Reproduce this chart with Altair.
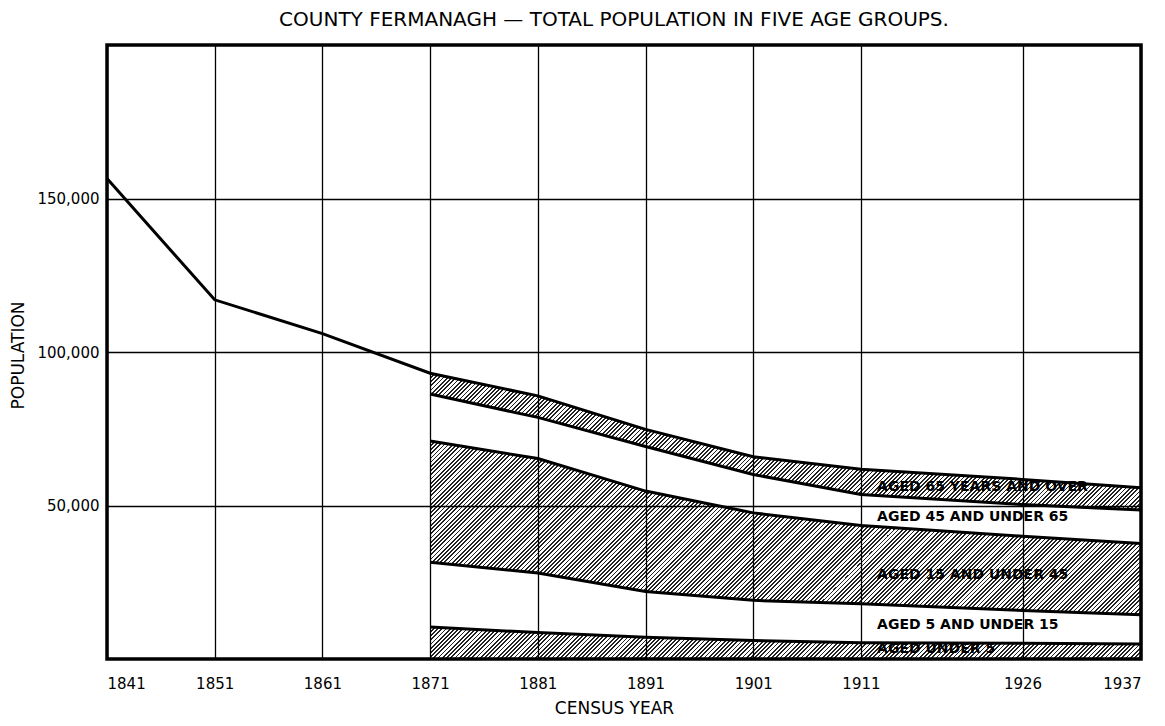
import altair as alt
import pandas as pd

# ---- data ----
years = [1841, 1851, 1861, 1871, 1881, 1891, 1901, 1911, 1926, 1937]
total = [156500, 117000, 106000, 93100, 85700, 74800, 65900, 61800, 58500, 55800]

band_years = [1871, 1881, 1891, 1901, 1911, 1926, 1937]
under5 = [10400, 8600, 7100, 6000, 5300, 5100, 4900]
age5_15 = [21100, 19400, 14900, 13100, 12700, 10700, 9500]
age15_45 = [39500, 37300, 32700, 28500, 25500, 24200, 23200]
age45_65 = [15300, 13400, 14500, 12500, 10100, 10300, 10900]
age65 = [6800, 7000, 5600, 5800, 8200, 8200, 7300]

band_names = ["AGED UNDER 5", "AGED 5 AND UNDER 15", "AGED 15 AND UNDER 45",
              "AGED 45 AND UNDER 65", "AGED 65 YEARS AND OVER"]
band_hatched = [True, False, True, False, True]

label_year = [1912.5, 1912.5, 1912.5, 1912.5, 1912.5]
label_value = [3300, 11100, 27500, 46100, 55900]

FONT = "DejaVu Sans"
W, H = 1034, 614
X0, X1 = 1841, 1937
YMAX = 200000

xscale = alt.Scale(domain=[X0, X1], nice=False, zero=False)
yscale = alt.Scale(domain=[0, YMAX], nice=False)


def hatch(lo_vals, hi_vals, period=4.2, ink=0.42):
    """Diagonal '/' hatching as a striped linear gradient over the band's bounding box."""
    bw = (band_years[-1] - band_years[0]) * W / (X1 - X0)
    bh = (max(hi_vals) - min(lo_vals)) * H / YMAX
    s = (bw + bh) / (bw * bw + bh * bh)
    n = int((bw + bh) / period)
    stops = []
    for k in range(n):
        a = k / n
        b = (k + ink) / n
        c = (k + 1) / n
        stops += [alt.GradientStop(color="#222222", offset=a),
                  alt.GradientStop(color="#222222", offset=b),
                  alt.GradientStop(color="#ffffff", offset=b),
                  alt.GradientStop(color="#ffffff", offset=c)]
    return alt.LinearGradient(gradient="linear", stops=stops,
                              x1=0, y1=0, x2=s * bw, y2=s * bh)


xaxis = alt.Axis(values=years, format="d", title="CENSUS YEAR", labelFontSize=15,
                 labelPadding=17, titlePadding=9, titleFontSize=17,
                 titleFontWeight="normal", grid=True, gridColor="black",
                 gridWidth=1.3, domain=False, ticks=False, labelFont=FONT,
                 titleFont=FONT, labelColor="black", titleColor="black",
                 titleX=507, zindex=1)
yaxis = alt.Axis(values=[50000, 100000, 150000], format=",d", title="POPULATION",
                 labelFontSize=15, labelPadding=8, titleFontSize=17,
                 titleFontWeight="normal", grid=True, gridColor="black",
                 gridWidth=1.3, domain=False, ticks=False, labelFont=FONT,
                 titleFont=FONT, labelColor="black", titleColor="black",
                 titleX=-80, titleY=310, zindex=1)

groups = [under5, age5_15, age15_45, age45_65, age65]
layers = []
bounds = []
lower = [0] * len(band_years)
for gi, g in enumerate(groups):
    upper = [lo + v for lo, v in zip(lower, g)]
    df = pd.DataFrame({"year": band_years, "lo": lower, "hi": upper})
    fill = hatch(lower, upper) if band_hatched[gi] else "transparent"
    if gi == 0:
        xe = alt.X("year:Q", scale=xscale, axis=xaxis)
        ye = alt.Y("lo:Q", scale=yscale, axis=yaxis)
    else:
        xe = alt.X("year:Q", scale=xscale)
        ye = alt.Y("lo:Q", scale=yscale)
    layers.append(alt.Chart(df).mark_area(fill=fill, strokeWidth=0).encode(
        x=xe, y=ye, y2="hi:Q"))
    if gi < len(groups) - 1:
        for y, v in zip(band_years, upper):
            bounds.append({"year": y, "value": v, "line": band_names[gi]})
    lower = upper

bound_df = pd.DataFrame(bounds)
total_df = pd.DataFrame({"year": years, "value": total})
label_df = pd.DataFrame({"year": label_year, "value": label_value, "text": band_names})

bound_lines = alt.Chart(bound_df).mark_line(color="black", strokeWidth=3).encode(
    x=alt.X("year:Q", scale=xscale),
    y=alt.Y("value:Q", scale=yscale),
    detail="line:N",
)

total_line = alt.Chart(total_df).mark_line(color="black", strokeWidth=3).encode(
    x=alt.X("year:Q", scale=xscale),
    y=alt.Y("value:Q", scale=yscale),
)

labels = alt.Chart(label_df).mark_text(align="left", baseline="middle", fontSize=14,
                                       fontWeight="bold", font=FONT,
                                       color="black").encode(
    x=alt.X("year:Q", scale=xscale),
    y=alt.Y("value:Q", scale=yscale),
    text="text:N",
)

frame = alt.Chart(pd.DataFrame({"a": [0]})).mark_rect(
    fill="transparent", stroke="black", strokeWidth=3.5).encode(
    x=alt.datum(X0, scale=xscale), x2=alt.datum(X1),
    y=alt.datum(0, scale=yscale), y2=alt.datum(YMAX),
)

chart = alt.layer(*layers, bound_lines, total_line, labels, frame).properties(
    width=W,
    height=H,
    title=alt.TitleParams("COUNTY FERMANAGH \u2014 TOTAL POPULATION IN FIVE AGE GROUPS.",
                          fontSize=20, fontWeight="normal", font=FONT, color="black",
                          anchor="middle", offset=13, dx=-10),
    autosize=alt.AutoSizeParams(type="none"),
    padding={"left": 99, "top": 37, "right": 15, "bottom": 59},
).configure(background="white").configure_view(stroke=None)

chart.save("out.html", embed_options={"renderer": "svg", "actions": False})
